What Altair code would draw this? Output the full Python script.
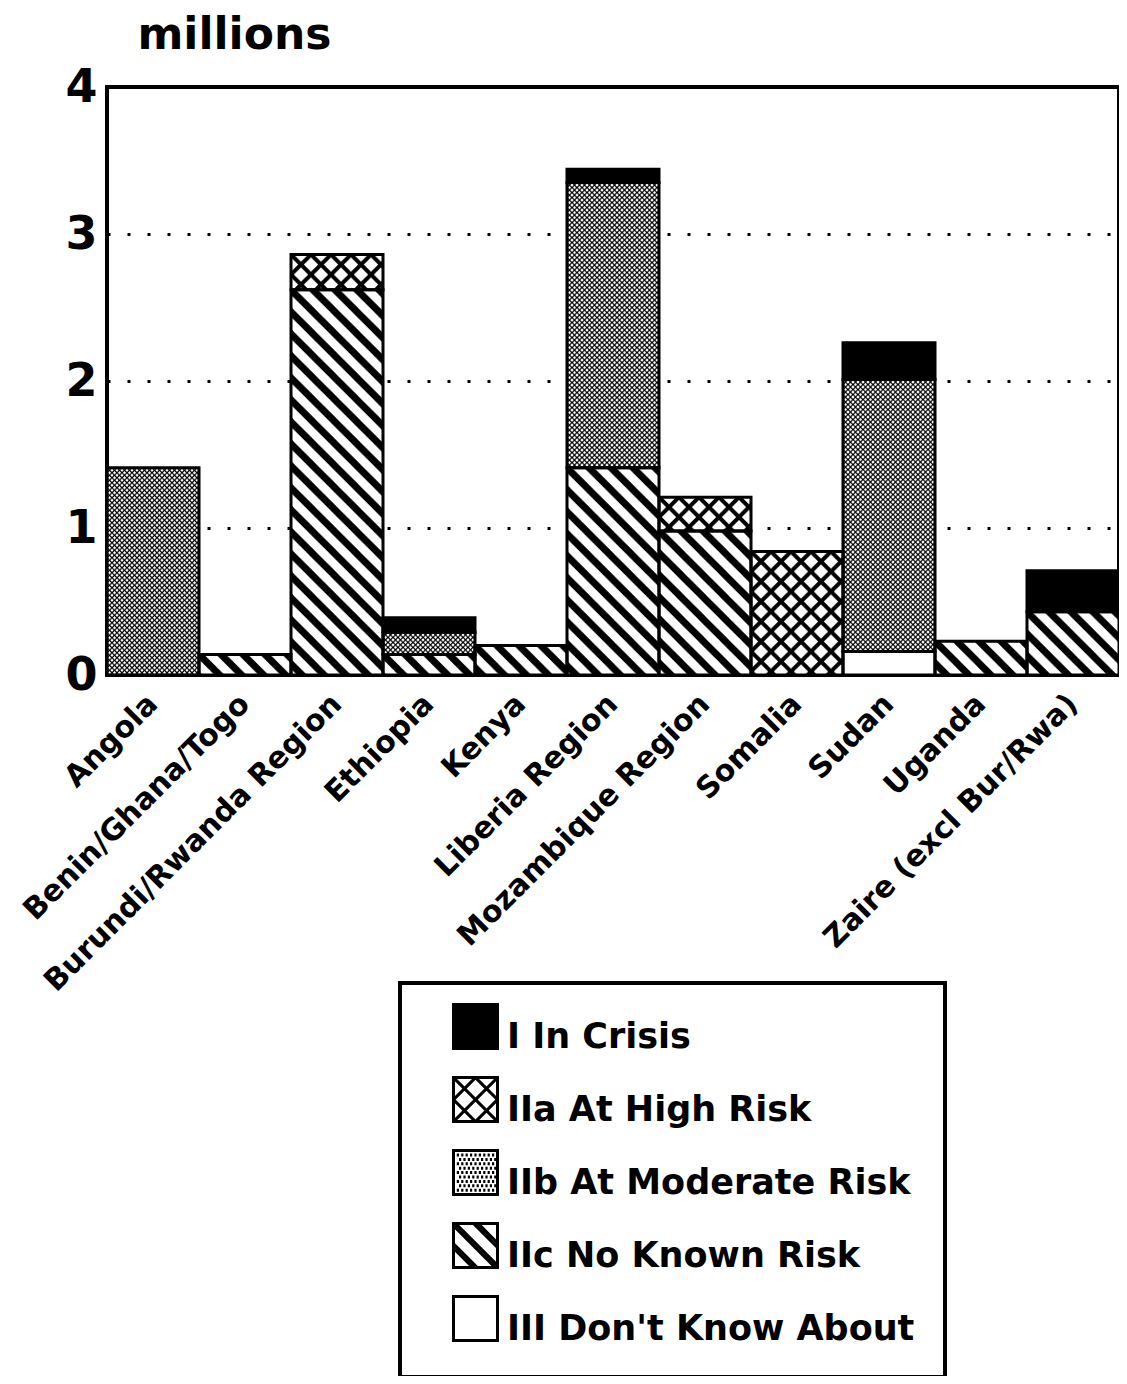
import base64
import altair as alt
import pandas as pd

# ---------------- data ----------------
countries = [
    "Angola", "Benin/Ghana/Togo", "Burundi/Rwanda Region", "Ethiopia", "Kenya",
    "Liberia Region", "Mozambique Region", "Somalia", "Sudan", "Uganda",
    "Zaire (excl Bur/Rwa)",
]
categories = [
    "I In Crisis", "IIa At High Risk", "IIb At Moderate Risk",
    "IIc No Known Risk", "III Don't Know About",
]
in_crisis     = [0.00, 0.00, 0.00, 0.10, 0.00, 0.09, 0.00, 0.00, 0.25, 0.00, 0.28]
high_risk     = [0.00, 0.00, 0.24, 0.00, 0.00, 0.00, 0.23, 0.84, 0.00, 0.00, 0.00]
moderate_risk = [1.41, 0.00, 0.00, 0.15, 0.00, 1.94, 0.00, 0.00, 1.85, 0.00, 0.00]
no_known_risk = [0.00, 0.14, 2.62, 0.14, 0.20, 1.41, 0.98, 0.00, 0.00, 0.23, 0.43]
dont_know     = [0.00, 0.00, 0.00, 0.00, 0.00, 0.00, 0.00, 0.00, 0.16, 0.00, 0.00]
y_ticks = [0, 1, 2, 3, 4]

series = [in_crisis, high_risk, moderate_risk, no_known_risk, dont_know]
# stacking order from the bottom: III, IIc, IIb, IIa, I
stack_rank = {categories[4]: 0, categories[3]: 1, categories[2]: 2,
              categories[1]: 3, categories[0]: 4}

rows = []
for cat, vals in zip(categories, series):
    for country, v in zip(countries, vals):
        if v > 0:
            rows.append({"country": country, "category": cat, "value": v,
                         "rank": stack_rank[cat]})
df = pd.DataFrame(rows)

# ---------------- styles ----------------
FONT = "DejaVu Sans"


def tile_uri(size, body):
    svg = (
        "<svg xmlns='http://www.w3.org/2000/svg' width='100%' height='100%'>"
        f"<defs><pattern id='p' width='{size}' height='{size}' patternUnits='userSpaceOnUse'>"
        f"<rect width='{size}' height='{size}' fill='white'/>{body}</pattern></defs>"
        "<rect width='100%' height='100%' fill='url(#p)'/></svg>"
    )
    return "data:image/svg+xml;base64," + base64.b64encode(svg.encode()).decode()


hatch_uri = tile_uri(22, "<path d='M-5,-5L27,27M-16,6L16,38M6,-16L38,16' stroke='black' stroke-width='7'/>")
cross_uri = tile_uri(20, "<path d='M-5,-5L25,25M-5,25L25,-5M-5,15L5,25M15,-5L25,5M-5,5L5,-5M15,25L25,15' "
                         "stroke='black' stroke-width='4'/>")
stipple_uri = tile_uri(5, "<path d='M-1,-1L6,6M-1,6L6,-1' stroke='black' stroke-width='1.2'/>")

# legend swatch paths: unit square from -1..1 horizontally, shifted up so the
# swatch bottom lines up with the label's baseline
DY = -0.45


def P(x, y):
    return f"{x:.3f},{y + DY:.3f}"


def seg_back(c):
    x0, x1 = max(-1.0, -1.0 - c), min(1.0, 1.0 - c)
    return f"M{P(x0, x0 + c)}L{P(x1, x1 + c)}"


def seg_fwd(c):
    x0, x1 = max(-1.0, c - 1.0), min(1.0, c + 1.0)
    return f"M{P(x0, c - x0)}L{P(x1, c - x1)}"


square = f"M{P(-1, -1)}L{P(1, -1)}L{P(1, 1)}L{P(-1, 1)}Z"
sym_cross = square + "".join(seg_back(c) for c in (-1, 0, 1)) + "".join(seg_fwd(c) for c in (-1, 0, 1))
sym_hatch = square + "".join(seg_back(c) for c in (-1.12, -0.92, -0.1, 0.1, 0.92, 1.12))
dots = []
for j, yy in enumerate([-0.8, -0.6, -0.4, -0.2, 0.0, 0.2, 0.4, 0.6, 0.8]):
    off = 0.1 if j % 2 else 0.0
    for xx in [-0.85, -0.65, -0.45, -0.25, -0.05, 0.15, 0.35, 0.55, 0.75]:
        if xx + off < 0.9:
            dots.append(f"M{P(xx + off, yy)}h0.1")
sym_stipple = square + "".join(dots)
shape_range = [square, sym_cross, sym_stipple, sym_hatch, square]
fill_range = ["#000000", "#ffffff", "#ffffff", "#ffffff", "#ffffff"]

x_enc = alt.X(
    "country:N", sort=countries,
    scale=alt.Scale(paddingInner=0, paddingOuter=0),
    axis=alt.Axis(title=None, labelAngle=315, labelFontSize=30, labelAlign="right",
                  labelBaseline="middle", labelPadding=24, labelLimit=600),
)
y_enc = alt.Y(
    "y0:Q",
    scale=alt.Scale(domain=[0, 4], nice=False),
    axis=alt.Axis(values=y_ticks, format="d", title="millions", titleAngle=0, titleX=30, titleY=-39,
                  titleAlign="left", titleBaseline="alphabetic", titleFontSize=44,
                  titleFont=FONT, titleFontWeight="bold", titleColor="black",
                  labelFontSize=46, labelPadding=10,
                  grid=True, gridColor="black", gridDash=[3, 17], gridWidth=3),
)
y2_enc = alt.Y2("y1:Q")

legend = alt.Legend(
    title=None, orient="none", legendX=293, legendY=896,
    symbolSize=1936, symbolStrokeWidth=3,
    symbolOpacity=1, symbolOffset=22,
    labelFont=FONT, labelFontSize=35, labelFontWeight="bold", labelColor="black",
    labelLimit=700, labelOffset=8, labelBaseline="middle",
    rowPadding=16, padding=30, strokeColor="black",
)

base = alt.Chart().mark_bar().encode(
    x=x_enc, y=y_enc, y2=y2_enc,
    fill=alt.condition(alt.datum.category == categories[0], alt.value("black"), alt.value("white")),
)

pattern_layers = []
for cat, uri in [(categories[1], cross_uri), (categories[2], stipple_uri), (categories[3], hatch_uri)]:
    pattern_layers.append(
        alt.Chart().transform_filter(alt.datum.category == cat)
        .mark_image(aspect=False)
        .encode(x=x_enc, y=y_enc, y2=y2_enc, url=alt.value(uri))
    )

outline = alt.Chart().mark_bar(fillOpacity=0, stroke="black", strokeWidth=3).encode(
    x=x_enc, y=y_enc, y2=y2_enc,
)

legend_pts = alt.Chart().mark_point(filled=True, opacity=0, stroke="black", strokeWidth=3).encode(
    x=x_enc, y=alt.Y("y1:Q"),
    color=alt.Color("category:N", scale=alt.Scale(domain=categories, range=fill_range),
                    legend=legend, title=None),
    shape=alt.Shape("category:N", scale=alt.Scale(domain=categories, range=shape_range),
                    legend=legend, title=None),
)

chart = (
    alt.layer(base, *pattern_layers, outline, legend_pts, data=df)
    .transform_stack(stack="value", groupby=["country"], as_=["y0", "y1"],
                     sort=[alt.SortField("rank", order="ascending")])
    .properties(
        width=1012, height=588,
        autosize=alt.AutoSizeParams(type="none"),
        padding={"left": 99, "top": 79, "right": 0, "bottom": 701},
        background="white",
    )
    .configure_view(stroke="black", strokeWidth=4)
    .configure_axis(domain=False, ticks=False, tickSize=0, labelFont=FONT,
                    labelFontWeight="bold", labelColor="black")
    .configure_legend(strokeWidth=4)
)

chart.save("out.html", embed_options={"renderer": "svg", "actions": False})
